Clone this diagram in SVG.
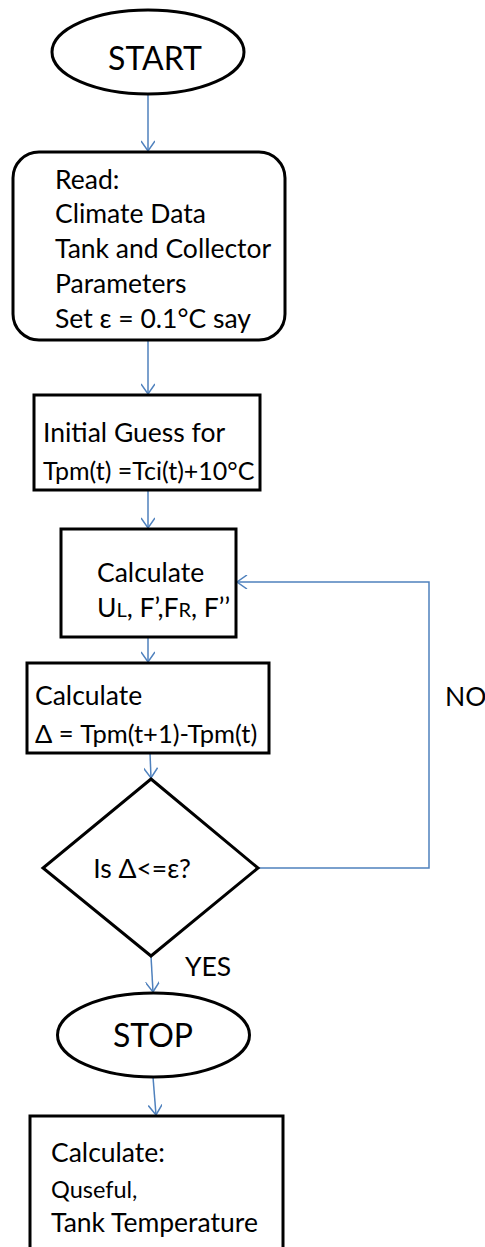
<svg xmlns="http://www.w3.org/2000/svg" width="485" height="1247" viewBox="0 0 485 1247">
<style>
.shape{fill:#fff;stroke:#000;stroke-width:3}
.t{font-family:Lato,"Liberation Sans",sans-serif;font-size:26.5px;fill:#000}
.big{font-size:32px}
.sm{font-size:20px}
.conn{fill:none;stroke:#4f81bd;stroke-width:1.5}
</style>
<defs>
<marker id="arr" markerWidth="14" markerHeight="14" refX="11" refY="7" orient="auto" markerUnits="userSpaceOnUse">
<path d="M1,0 L11,7 L1,14" fill="none" stroke="#4f81bd" stroke-width="1.5"/>
</marker>
</defs>
<g id="connectors">
<line class="conn" x1="148" y1="95" x2="148" y2="151" marker-end="url(#arr)"/>
<line class="conn" x1="148" y1="340" x2="148" y2="394" marker-end="url(#arr)"/>
<line class="conn" x1="148" y1="490" x2="148" y2="528" marker-end="url(#arr)"/>
<line class="conn" x1="148" y1="637" x2="148" y2="662" marker-end="url(#arr)"/>
<line class="conn" x1="150" y1="753" x2="151" y2="778" marker-end="url(#arr)"/>
<polyline class="conn" points="258,868 429,868 429,582 237,582" marker-end="url(#arr)"/>
<line class="conn" x1="151" y1="956" x2="153" y2="992" marker-end="url(#arr)"/>
<line class="conn" x1="153" y1="1077" x2="156" y2="1115" marker-end="url(#arr)"/>
<text class="t" x="445" y="706">NO</text>
<text class="t" x="185" y="976">YES</text>
</g>
<g id="start">
<ellipse class="shape" cx="148" cy="52" rx="96" ry="42"/>
<text class="t big" x="155" y="70" text-anchor="middle">START</text>
</g>
<g id="read">
<rect class="shape" x="13" y="152" width="272" height="188" rx="26"/>
<text class="t" x="55" y="189">Read:</text>
<text class="t" x="55" y="223">Climate Data</text>
<text class="t" x="55" y="258">Tank and Collector</text>
<text class="t" x="55" y="293">Parameters</text>
<text class="t" x="55" y="328">Set ε = 0.1°C say</text>
</g>
<g id="guess">
<rect class="shape" x="34" y="395" width="226" height="95"/>
<text class="t" x="43" y="442">Initial Guess for</text>
<text class="t" x="43" y="480" style="font-size:25px">Tpm(t) =Tci(t)+10°C</text>
</g>
<g id="calc1">
<rect class="shape" x="61" y="529" width="175" height="108"/>
<text class="t" x="97" y="582">Calculate</text>
<text class="t" x="97" y="617">U<tspan class="sm">L</tspan>, F’,F<tspan class="sm">R</tspan>, F’’</text>
</g>
<g id="calc2">
<rect class="shape" x="27" y="663" width="242" height="90"/>
<text class="t" x="35" y="705">Calculate</text>
<text class="t" x="35" y="743" style="font-size:25.5px">Δ = Tpm(t+1)-Tpm(t)</text>
</g>
<g id="decision">
<polygon class="shape" points="151,779 258,868 151,956 43,868"/>
<text class="t" x="142" y="878" text-anchor="middle">Is Δ&lt;=ε?</text>
</g>
<g id="stop">
<ellipse class="shape" cx="153.5" cy="1035" rx="96" ry="42"/>
<text class="t big" x="153" y="1047" text-anchor="middle">STOP</text>
</g>
<g id="final">
<rect class="shape" x="30" y="1116" width="253" height="145"/>
<text class="t" x="51" y="1162">Calculate:</text>
<text class="t" x="51" y="1198" style="font-size:23.5px">Quseful,</text>
<text class="t" x="51" y="1232">Tank Temperature</text>
</g>
</svg>
